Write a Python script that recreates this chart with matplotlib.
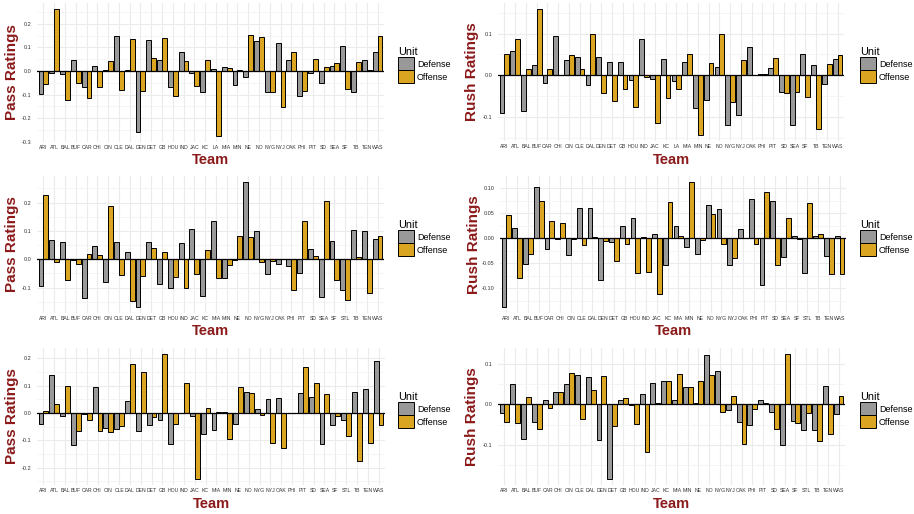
import matplotlib.pyplot as plt
import numpy as np
from matplotlib.patches import Patch
from matplotlib.ticker import MultipleLocator, FormatStrFormatter

plt.rcParams['font.family'] = ['Liberation Sans', 'DejaVu Sans']
plt.rcParams['axes.unicode_minus'] = False

teams_la = ['ARI', 'ATL', 'BAL', 'BUF', 'CAR', 'CHI', 'CIN', 'CLE', 'DAL', 'DEN', 'DET',
            'GB', 'HOU', 'IND', 'JAC', 'KC', 'LA', 'MIA', 'MIN', 'NE', 'NO', 'NYG', 'NYJ',
            'OAK', 'PHI', 'PIT', 'SD', 'SEA', 'SF', 'TB', 'TEN', 'WAS']
teams_stl = ['ARI', 'ATL', 'BAL', 'BUF', 'CAR', 'CHI', 'CIN', 'CLE', 'DAL', 'DEN', 'DET',
             'GB', 'HOU', 'IND', 'JAC', 'KC', 'MIA', 'MIN', 'NE', 'NO', 'NYG', 'NYJ',
             'OAK', 'PHI', 'PIT', 'SD', 'SEA', 'SF', 'STL', 'TB', 'TEN', 'WAS']

# row 1
pass1_def = [-0.097, -0.007, -0.013, 0.046, -0.069, 0.023, 0.002, 0.149, 0.003, -0.257, 0.130,
             0.047, -0.070, 0.080, -0.007, -0.087, 0.010, 0.016, -0.061, -0.024, 0.126, -0.089,
             0.117, 0.047, -0.104, -0.010, -0.050, 0.020, 0.106, -0.090, 0.046, 0.080]
pass1_off = [-0.054, 0.261, -0.121, -0.049, -0.113, -0.070, 0.044, -0.081, 0.137, -0.086, 0.054,
             0.139, -0.107, 0.043, -0.063, 0.045, -0.274, 0.011, 0.006, 0.154, 0.144, -0.090,
             -0.153, 0.080, -0.086, 0.049, 0.016, 0.034, -0.077, 0.036, 0.006, 0.146]
rush1_def = [-0.089, 0.058, -0.086, 0.025, -0.018, 0.094, 0.037, 0.045, -0.024, 0.045, 0.031,
             0.031, -0.010, 0.086, -0.008, 0.040, -0.013, 0.033, -0.079, -0.058, 0.021, -0.118,
             -0.094, 0.068, 0.004, 0.018, -0.041, -0.118, 0.050, 0.024, -0.021, 0.039]
rush1_off = [0.052, 0.086, 0.014, 0.158, 0.014, 0.001, 0.049, 0.016, 0.098, -0.043, -0.061,
             -0.033, -0.075, -0.003, -0.114, -0.055, -0.033, 0.050, -0.142, 0.030, 0.098, -0.063,
             0.036, 0.000, 0.003, 0.041, -0.043, -0.041, -0.052, -0.128, 0.027, 0.049]

# row 2
pass2_def = [-0.096, 0.067, 0.061, -0.001, -0.138, 0.047, -0.079, 0.061, 0.024, -0.168, 0.060,
             -0.088, -0.102, 0.058, 0.108, -0.129, 0.134, -0.067, -0.002, 0.272, 0.099, -0.051,
             -0.016, -0.025, -0.048, 0.036, -0.132, 0.064, -0.109, 0.102, 0.099, 0.072]
pass2_off = [0.228, -0.011, -0.073, -0.016, 0.019, 0.016, 0.187, -0.054, -0.147, -0.060, 0.040,
             0.026, -0.064, -0.102, -0.051, 0.031, -0.067, -0.020, 0.081, 0.079, -0.011, -0.005,
             0.000, -0.109, 0.134, 0.012, 0.205, -0.075, -0.144, 0.009, -0.120, 0.081]
rush2_def = [-0.137, 0.021, -0.052, 0.103, -0.021, -0.002, -0.034, 0.061, 0.061, -0.083, -0.008,
             0.024, 0.041, 0.003, 0.009, -0.053, 0.025, -0.018, -0.031, 0.066, 0.059, -0.054,
             0.019, 0.078, -0.094, 0.075, -0.038, 0.004, -0.069, 0.004, -0.036, 0.005]
rush2_off = [0.047, -0.080, -0.031, 0.075, 0.035, 0.030, -0.001, -0.013, 0.003, -0.005, -0.046,
             -0.011, -0.069, -0.067, -0.112, 0.073, 0.005, 0.112, -0.004, 0.049, -0.011, -0.040,
             0.001, -0.011, 0.093, -0.054, 0.041, -0.002, 0.070, 0.009, -0.071, -0.071]

# row 3
pass3_def = [-0.041, 0.138, -0.011, -0.117, -0.003, 0.094, -0.056, -0.059, 0.045, -0.065, -0.044,
             -0.024, -0.113, -0.002, -0.012, -0.077, -0.063, 0.004, -0.040, 0.078, 0.015, 0.051,
             0.056, 0.001, 0.074, 0.057, -0.115, -0.044, -0.024, 0.076, 0.088, 0.189]
pass3_off = [0.006, 0.034, 0.099, -0.067, -0.027, -0.067, -0.070, -0.048, 0.180, 0.149, -0.015,
             0.215, -0.040, 0.111, -0.241, 0.018, 0.005, -0.095, 0.095, 0.073, -0.007, -0.111,
             -0.130, -0.002, 0.167, 0.111, 0.070, -0.011, -0.084, -0.177, -0.109, -0.044]
rush3_def = [-0.021, 0.051, -0.086, -0.043, 0.010, 0.030, 0.050, 0.072, 0.067, -0.087, -0.184,
             0.011, -0.001, 0.025, 0.052, 0.058, 0.010, 0.042, 0.003, 0.123, 0.083, -0.015,
             -0.044, -0.052, 0.012, -0.020, -0.100, -0.040, -0.063, -0.063, 0.046, -0.023]
rush3_off = [-0.044, -0.045, 0.017, -0.061, -0.009, 0.031, 0.078, -0.035, 0.035, 0.070, -0.053,
             0.016, -0.048, -0.119, 0.003, 0.058, 0.076, 0.044, 0.059, 0.072, -0.018, 0.021,
             -0.099, -0.012, 0.004, -0.061, 0.124, -0.045, -0.021, -0.090, -0.073, 0.021]

W, H = 914, 514
gray = '#999999'
gold = '#DAA520'
dark_red = '#8B1A1A'

fig = plt.figure(figsize=(W / 100, H / 100), dpi=100)


def panel(l, r, t, b, teams, d, o, ylabel, major, fmt, leg_x, leg_y, team_y):
    ax = fig.add_axes([l / W, 1 - b / H, (r - l) / W, (b - t) / H])
    x = np.arange(len(teams))
    ax.bar(x - 0.225, d, width=0.45, color=gray, edgecolor='black', linewidth=0.7, zorder=3)
    ax.bar(x + 0.225, o, width=0.45, color=gold, edgecolor='black', linewidth=0.7, zorder=3)
    ax.axhline(0, color='black', linewidth=0.9, zorder=4)
    lo = min(min(d), min(o), 0)
    hi = max(max(d), max(o), 0)
    pad = (hi - lo) * 0.05
    ax.set_ylim(lo - pad, hi + pad)
    ax.set_xlim(-0.6, len(teams) - 0.4)
    ax.set_xticks(x)
    ax.set_xticklabels(teams)
    ax.yaxis.set_major_locator(MultipleLocator(major))
    ax.yaxis.set_minor_locator(MultipleLocator(major / 2))
    ax.yaxis.set_major_formatter(FormatStrFormatter(fmt))
    ax.tick_params(axis='x', length=0, labelsize=3.7, pad=2, colors='#333333')
    ax.tick_params(axis='y', which='both', length=0, labelsize=4, pad=4, colors='#333333')
    ax.grid(True, which='major', color='#EBEBEB', linewidth=0.8, zorder=0)
    ax.grid(True, which='minor', axis='y', color='#F2F2F2', linewidth=0.5, zorder=0)
    ax.set_axisbelow(True)
    for s in ax.spines.values():
        s.set_visible(False)
    fig.text((l - 25 if l < 100 else l - 26) / W, 1 - (t + b) / 2 / H, ylabel, rotation=90,
             ha='center', va='center', fontsize=11, fontweight='bold', color=dark_red)
    fig.text((l + r) / 2 / W, 1 - team_y / H, 'Team', ha='center', va='center',
             fontsize=10.5, fontweight='bold', color=dark_red)
    handles = [Patch(facecolor=gray, edgecolor='black', linewidth=0.7, label='Defense'),
               Patch(facecolor=gold, edgecolor='black', linewidth=0.7, label='Offense')]
    ax.legend(handles=handles, title='Unit', loc='upper left',
              bbox_to_anchor=(leg_x / W, 1 - leg_y / H), bbox_transform=fig.transFigure,
              frameon=False, fontsize=6.5, title_fontsize=7.8, handlelength=1.75,
              handleheight=1.75, labelspacing=0.05, handletextpad=0.35, borderpad=0,
              borderaxespad=0, alignment='left')
    return ax


panel(37, 384, 3, 142, teams_la, pass1_def, pass1_off, 'Pass Ratings', 0.1, '%.1f', 398, 47, 160)
panel(498, 844, 3, 141, teams_la, rush1_def, rush1_off, 'Rush Ratings', 0.1, '%.1f', 860, 47, 160)
panel(37, 384, 176, 313, teams_stl, pass2_def, pass2_off, 'Pass Ratings', 0.1, '%.1f', 398, 220, 331)
panel(500, 846, 176, 313, teams_stl, rush2_def, rush2_off, 'Rush Ratings', 0.05, '%.2f', 860, 220, 331)
panel(37, 385, 348, 485, teams_stl, pass3_def, pass3_off, 'Pass Ratings', 0.1, '%.1f', 398, 392, 504)
panel(498, 845, 348, 485, teams_stl, rush3_def, rush3_off, 'Rush Ratings', 0.1, '%.1f', 860, 392, 504)

fig.savefig('out.png', dpi=100)
